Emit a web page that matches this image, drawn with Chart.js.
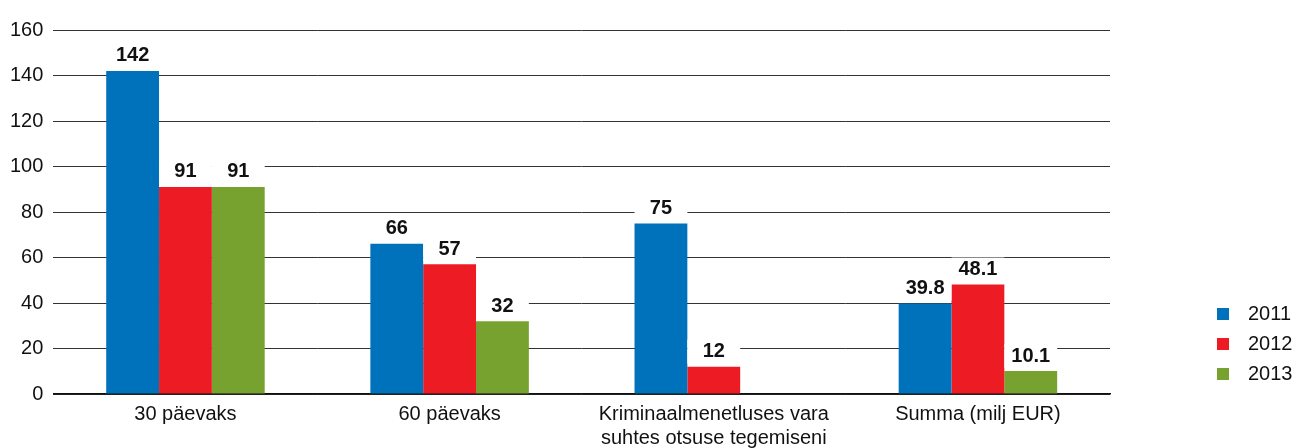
<!DOCTYPE html>
<html>
<head>
<meta charset="utf-8">
<script src="https://cdn.jsdelivr.net/npm/chart.js@4"></script>
<style>
    html, body { margin: 0; padding: 0; background: #fff; overflow: hidden; }
    #wrap { width: 1309px; height: 458px; }
</style>
</head>
<body>
<div id="wrap"><canvas id="grafico"></canvas></div>
<script>
const kategooriad = [
    "30 päevaks",
    "60 päevaks",
    ["Kriminaalmenetluses vara", "suhtes otsuse tegemiseni"],
    "Summa (milj EUR)"
];
const aastad = ["2011", "2012", "2013"];
const vaartused2011 = [142, 66, 75, 39.8];
const vaartused2012 = [91, 57, 12, 48.1];
const vaartused2013 = [91, 32, null, 10.1];
const varvid = ["#0072bc", "#ed1c24", "#78a22f"];

const FONT = "'Liberation Sans Narrow', 'Arial Narrow', 'Liberation Sans', Arial, sans-serif";

/* silt iga tulba kohal, valge taustaga */
const tulbaSildid = {
    id: "tulbaSildid",
    afterDatasetsDraw(chart) {
        const ctx = chart.ctx;
        ctx.save();
        ctx.font = "bold 20px " + FONT;
        ctx.textAlign = "center";
        ctx.textBaseline = "middle";
        chart.data.datasets.forEach((ds, i) => {
            chart.getDatasetMeta(i).data.forEach((bar, j) => {
                const v = ds.data[j];
                if (v == null) return;
                const y = bar.y - 15;
                ctx.fillStyle = "#fff";
                ctx.fillRect(bar.x - bar.width / 2, y - 12, bar.width, 24);
                ctx.fillStyle = "#111";
                ctx.fillText(String(v), bar.x, y);
            });
        });
        ctx.restore();
    }
};

/* legend paremal all */
const legend = {
    id: "legend",
    afterDraw(chart) {
        const ctx = chart.ctx;
        ctx.save();
        ctx.font = "20px " + FONT;
        ctx.textBaseline = "middle";
        ctx.textAlign = "left";
        chart.data.datasets.forEach((ds, i) => {
            const y = 314 + i * 30;
            ctx.fillStyle = ds.backgroundColor;
            ctx.fillRect(1217, y - 6, 12, 12);
            ctx.fillStyle = "#111";
            ctx.fillText(ds.label, 1248, y);
        });
        ctx.restore();
    }
};

new Chart(document.getElementById("grafico"), {
    type: "bar",
    data: {
        labels: kategooriad,
        datasets: [
            { label: aastad[0], data: vaartused2011, backgroundColor: varvid[0] },
            { label: aastad[1], data: vaartused2012, backgroundColor: varvid[1] },
            { label: aastad[2], data: vaartused2013, backgroundColor: varvid[2] }
        ]
    },
    options: {
        responsive: true,
        maintainAspectRatio: false,
        animation: false,
        datasets: { bar: { categoryPercentage: 0.6, barPercentage: 1.0 } },
        layout: { padding: { top: 30, right: 199, left: 0, bottom: 0 } },
        plugins: {
            legend: { display: false },
            tooltip: { enabled: false }
        },
        scales: {
            x: {
                grid: { display: false, drawTicks: false },
                border: { display: true, color: "#111", width: 1.5 },
                ticks: {
                    color: "#111",
                    font: { family: FONT, size: 20 },
                    padding: 8,
                    maxRotation: 0,
                    autoSkip: false
                }
            },
            y: {
                min: 0,
                max: 160,
                grid: { color: "#333", lineWidth: 1, drawTicks: false },
                border: { display: false },
                ticks: {
                    stepSize: 20,
                    color: "#111",
                    font: { family: FONT, size: 20 },
                    padding: 10
                }
            }
        }
    },
    plugins: [tulbaSildid, legend]
});
</script>
</body>
</html>
